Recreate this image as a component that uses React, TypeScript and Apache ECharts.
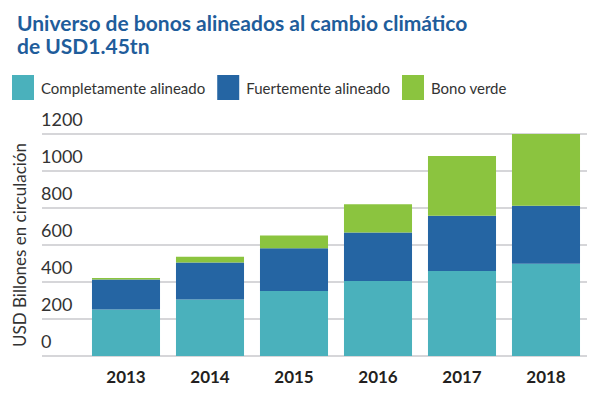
import React, { useEffect, useRef } from "react";
import * as echarts from "echarts";

const years = ["2013", "2014", "2015", "2016", "2017", "2018"];
const completamente = [252, 306, 351, 405, 459, 499];
const fuertemente = [162, 200, 231, 262, 299, 313];
const bonoVerde = [7, 31, 70, 153, 323, 388];
const yTicks = [0, 200, 400, 600, 800, 1000, 1200];

const TEAL = "#4AB1BC";
const BLUE = "#2565A3";
const GREEN = "#8BC43F";
const FONT = "Lato, 'Noto Sans', sans-serif";

export default function App() {
  const ref = useRef<HTMLDivElement>(null);
  useEffect(() => {
    if (!ref.current) return;
    const chart = echarts.init(ref.current, undefined, { renderer: "svg" });
    const yMin = yTicks[0];
    const yMax = yTicks[yTicks.length - 1];
    const step = yTicks[1] - yTicks[0];
    chart.setOption({
      animation: false,
      backgroundColor: "#ffffff",
      textStyle: { fontFamily: FONT },
      title: {
        text: "Universo de bonos alineados al cambio climático\nde USD1.45tn",
        left: 12,
        top: 6,
        textStyle: {
          fontFamily: FONT,
          fontSize: 21,
          fontWeight: "bold",
          color: "#1F5D9B",
          lineHeight: 23,
        },
      },
      legend: {
        left: 12,
        top: 75,
        padding: 0,
        itemWidth: 22,
        itemHeight: 25,
        itemGap: 12,
        icon: "rect",
        textStyle: { fontFamily: FONT, fontSize: 15, color: "#333333", padding: [0, 0, 0, 2] },
        data: ["Completamente alineado", "Fuertemente alineado", "Bono verde"],
      },
      grid: [
        { left: 42, right: 18, top: 134, height: 222 },
        { left: 84, right: 17, top: 134, height: 222 },
      ],
      xAxis: [
        { type: "value", gridIndex: 0, min: 0, max: 1, show: false },
        {
          type: "category",
          gridIndex: 1,
          data: years,
          axisLine: { show: false },
          axisTick: { show: false },
          axisLabel: {
            margin: 12,
            fontFamily: FONT,
            fontSize: 17,
            fontWeight: "bold",
            color: "#231F20",
          },
        },
      ],
      yAxis: [
        {
          type: "value",
          gridIndex: 0,
          min: yMin,
          max: yMax,
          interval: step,
          name: "USD Billones en circulación",
          nameLocation: "middle",
          nameGap: 14,
          nameTextStyle: { fontFamily: FONT, fontSize: 17, color: "#333333" },
          axisLine: { show: false },
          axisTick: { show: false },
          splitLine: { lineStyle: { color: "#C8C8CC", width: 1.5 } },
          axisLabel: {
            inside: true,
            margin: -1,
            align: "left",
            verticalAlign: "bottom",
            padding: [0, 0, 6, 0],
            fontFamily: FONT,
            fontSize: 18,
            color: "#333333",
            formatter: (v: number) => String(v),
          },
        },
        { type: "value", gridIndex: 1, min: yMin, max: yMax, show: false },
      ],
      series: [
        {
          name: "Completamente alineado",
          type: "bar",
          stack: "total",
          xAxisIndex: 1,
          yAxisIndex: 1,
          barCategoryGap: "19%",
          itemStyle: { color: TEAL },
          data: completamente,
        },
        {
          name: "Fuertemente alineado",
          type: "bar",
          stack: "total",
          xAxisIndex: 1,
          yAxisIndex: 1,
          barCategoryGap: "19%",
          itemStyle: { color: BLUE },
          data: fuertemente,
        },
        {
          name: "Bono verde",
          type: "bar",
          stack: "total",
          xAxisIndex: 1,
          yAxisIndex: 1,
          barCategoryGap: "19%",
          itemStyle: { color: GREEN },
          data: bonoVerde,
        },
      ],
    });
    return () => chart.dispose();
  }, []);
  return (
    <div
      ref={ref}
      style={{ position: "absolute", left: 0, top: 0, width: 605, height: 396 }}
    />
  );
}
